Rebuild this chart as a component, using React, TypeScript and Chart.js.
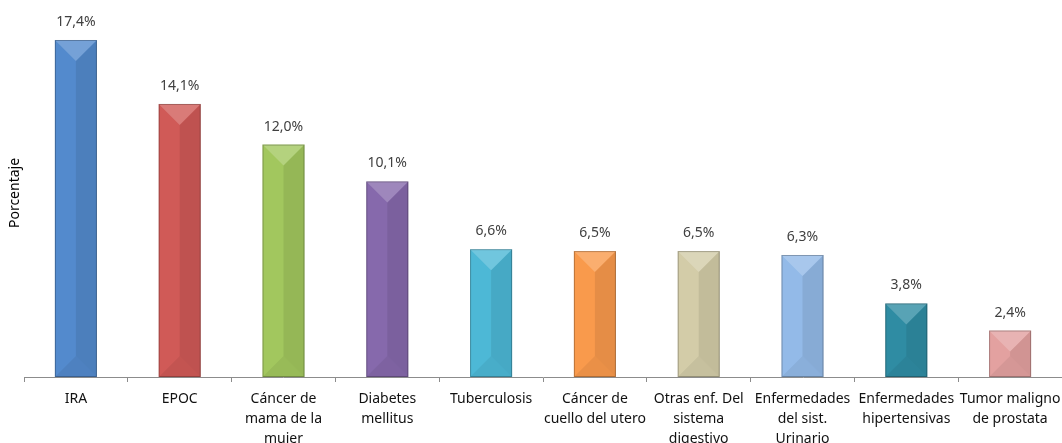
import React, { useEffect, useRef } from "react";
import { Chart, registerables } from "chart.js";

Chart.register(...registerables);

const categories: string[][] = [
  ["IRA"],
  ["EPOC"],
  ["Cáncer de", "mama de la", "mujer"],
  ["Diabetes", "mellitus"],
  ["Tuberculosis"],
  ["Cáncer de", "cuello del utero"],
  ["Otras enf. Del", "sistema", "digestivo"],
  ["Enfermedades", "del sist.", "Urinario"],
  ["Enfermedades", "hipertensivas"],
  ["Tumor maligno", "de prostata"],
];

const values: number[] = [17.4, 14.1, 12.0, 10.1, 6.6, 6.5, 6.5, 6.3, 3.8, 2.4];

const barColors: string[] = [
  "#538ACD",
  "#D05A57",
  "#A2C75E",
  "#8669AC",
  "#4DB8D6",
  "#F99A4C",
  "#D3CCA8",
  "#93BAE8",
  "#2F8CA3",
  "#E3A1A0",
];

const yTitle = "Porcentaje";
const FONT = "'Noto Sans', sans-serif";

const bevelPlugin = {
  id: "bevel",
  afterDatasetsDraw(chart: any) {
    const ctx = chart.ctx;
    const meta = chart.getDatasetMeta(0);
    ctx.save();
    meta.data.forEach((bar: any, i: number) => {
      const { x, y, base, width } = bar.getProps(["x", "y", "base", "width"], true);
      const l = x - width / 2;
      const r = x + width / 2;
      const t = Math.min(y, base);
      const b = Math.max(y, base);
      const d = Math.min(width / 2, (b - t) / 2);
      const poly = (pts: number[][], fill: string) => {
        ctx.beginPath();
        ctx.moveTo(pts[0][0], pts[0][1]);
        for (let k = 1; k < pts.length; k++) ctx.lineTo(pts[k][0], pts[k][1]);
        ctx.closePath();
        ctx.fillStyle = fill;
        ctx.fill();
      };
      poly([[x, t + d], [r, t], [r, b], [x, b - d]], "rgba(0,0,0,0.08)");
      poly([[l, t], [r, t], [x, t + d]], "rgba(255,255,255,0.2)");
      poly([[l, b], [r, b], [x, b - d]], "rgba(0,0,0,0.06)");
      ctx.strokeStyle = "rgba(0,0,0,0.25)";
      ctx.lineWidth = 1;
      ctx.strokeRect(l + 0.5, t + 0.5, width - 1, b - t - 1);
      const v = values[i];
      ctx.fillStyle = "#404040";
      ctx.font = `14px ${FONT}`;
      ctx.textAlign = "center";
      ctx.textBaseline = "middle";
      ctx.fillText(v.toFixed(1).replace(".", ",") + "%", x, t - 18);
    });
    ctx.restore();
  },
};

export default function App() {
  const ref = useRef<HTMLCanvasElement | null>(null);
  useEffect(() => {
    if (!ref.current) return;
    const chart = new Chart(ref.current, {
      type: "bar",
      data: {
        labels: categories as any,
        datasets: [
          {
            data: values,
            backgroundColor: barColors,
            borderWidth: 0,
            categoryPercentage: 1,
            barPercentage: 0.405,
          },
        ],
      },
      options: {
        animation: false,
        responsive: false,
        maintainAspectRatio: false,
        layout: { padding: { top: 9, right: 0, left: 0, bottom: 0 } },
        plugins: {
          legend: { display: false },
          tooltip: { enabled: false },
        },
        scales: {
          x: {
            grid: {
              display: true,
              offset: true,
              drawOnChartArea: false,
              drawTicks: true,
              tickLength: 5,
              color: "#8C8C8C",
            },
            border: { display: true, color: "#8C8C8C", width: 1 },
            ticks: {
              maxRotation: 0,
              minRotation: 0,
              autoSkip: false,
              padding: 7,
              color: "#111",
              font: { family: FONT, size: 14, lineHeight: 20 / 14 },
            },
            afterFit(scale: any) {
              scale.height = 66;
              scale.paddingLeft = 0;
              scale.paddingRight = 0;
            },
          },
          y: {
            min: 0,
            max: 19,
            grid: { display: false },
            border: { display: false },
            ticks: { display: false },
            title: {
              display: true,
              text: yTitle,
              color: "#000",
              font: { family: FONT, size: 14 },
              padding: { top: 7, bottom: 0 },
            },
            afterFit(scale: any) {
              scale.width = 24;
            },
          },
        },
      },
      plugins: [bevelPlugin],
    });
    return () => chart.destroy();
  }, []);
  return (
    <div style={{ position: "fixed", left: 0, top: 0, width: 1062, height: 443, background: "#fff" }}>
      <canvas ref={ref} width={1062} height={443} style={{ display: "block" }} />
    </div>
  );
}
